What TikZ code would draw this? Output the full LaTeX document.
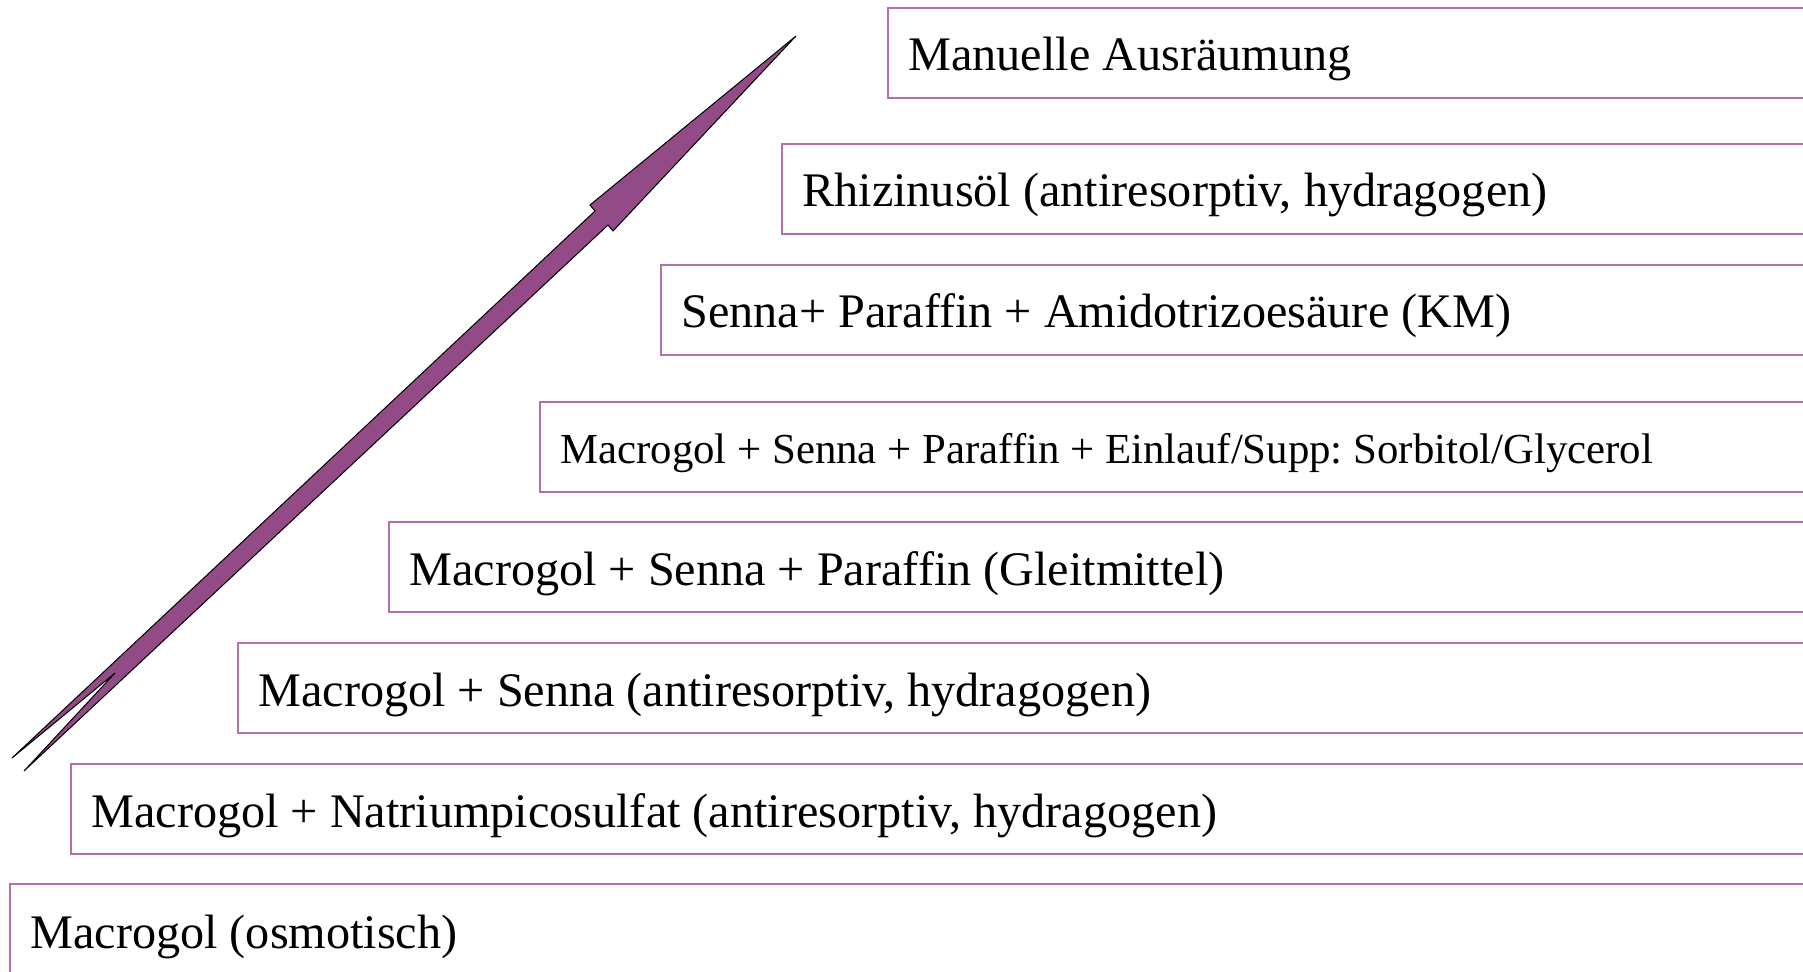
\documentclass[tikz,border=0pt]{standalone}
\usepackage{fontspec}
\setmainfont{Liberation Serif}
\usepackage{tikz}
\usepackage{xcolor}
\frenchspacing

\definecolor{arrowpurple}{RGB}{147,75,135}
\definecolor{boxline}{RGB}{180,112,168}

\tikzset{
  stagebox/.style={draw=boxline, line width=0.6pt},
  stagetext/.style={anchor=west, inner sep=0pt, font=\fontsize{24.1}{28}\selectfont},
  stagesmall/.style={stagetext, font=\fontsize{21.4}{25}\selectfont}
}

\begin{document}
\begin{tikzpicture}[x=0.5pt,y=0.5pt,yscale=-1,xscale=1]
			\useasboundingbox (0,0) rectangle (1803,971);
			\clip (0,0) rectangle (1803,971);
			
			%Shape: Rectangle [id:manuelle]
			\draw [stagebox] (1830,8) -- (888,8) -- (888,98) -- (1830,98) ;
			%Shape: Rectangle [id:rhizinus]
			\draw [stagebox] (1830,144) -- (782,144) -- (782,234) -- (1830,234) ;
			%Shape: Rectangle [id:senna_km]
			\draw [stagebox] (1830,265) -- (661,265) -- (661,355) -- (1830,355) ;
			%Shape: Rectangle [id:einlauf]
			\draw [stagebox] (1830,402) -- (540,402) -- (540,492) -- (1830,492) ;
			%Shape: Rectangle [id:paraffin]
			\draw [stagebox] (1830,522) -- (389,522) -- (389,612) -- (1830,612) ;
			%Shape: Rectangle [id:senna]
			\draw [stagebox] (1830,643) -- (238,643) -- (238,733) -- (1830,733) ;
			%Shape: Rectangle [id:picosulfat]
			\draw [stagebox] (1830,764) -- (71,764) -- (71,854) -- (1830,854) ;
			%Shape: Rectangle [id:macrogol]
			\draw [stagebox] (1830,884) -- (10,884) -- (10,990) ;
			
			%Shape: Notched Arrow [id:escalation]
			\draw [fill=arrowpurple, line width=0.5pt] (796,36) -- (613,231) -- (608,225) -- (24,771) -- (115,673) -- (12,758) -- (595,211) -- (590,205) -- cycle ;
			
			% Text Node
			\node [stagetext] (manuelle) at (908,59) {Manuelle Ausräumung};
			% Text Node
			\node [stagetext] (rhizinus) at (802,195) {Rhizinusöl (antiresorptiv, hydragogen)};
			% Text Node
			\node [stagetext] (sennakm) at (681,316) {Senna+ Paraffin + Amidotrizoesäure (KM)};
			% Text Node
			\node [stagesmall] (einlauf) at (560,453) {Macrogol + Senna + Paraffin + Einlauf/Supp: Sorbitol/Glycerol};
			% Text Node
			\node [stagetext] (paraffin) at (409,574) {Macrogol + Senna + Paraffin (Gleitmittel)};
			% Text Node
			\node [stagetext] (senna) at (258,695) {Macrogol + Senna (antiresorptiv, hydragogen)};
			% Text Node
			\node [stagetext] (picosulfat) at (91,816) {Macrogol + Natriumpicosulfat (antiresorptiv, hydragogen)};
			% Text Node
			\node [stagetext] (macrogol) at (30,937) {Macrogol (osmotisch)};
		\end{tikzpicture}
\end{document}
